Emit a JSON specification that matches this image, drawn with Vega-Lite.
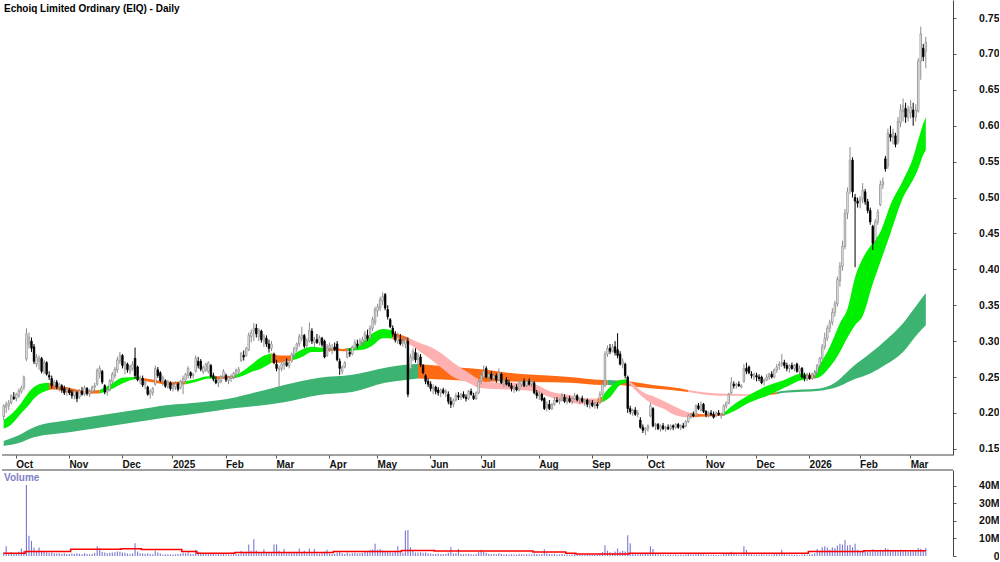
{
"$schema": "https://vega.github.io/schema/vega-lite/v6.json",
"padding": 0,
"background": "white",
"spacing": 0,
"config": {"view": {"stroke": null}, "font": "Liberation Sans", "axis": {"labelFont": "Liberation Sans", "labelFontWeight": "bold", "labelColor": "#111111", "domainColor": "#555555", "tickColor": "#555555", "grid": false, "title": null, "labelOverlap": false}},
"datasets": {
"p": [
{"d":"2024-09-24","o":0.195,"h":0.212,"l":0.19,"c":0.21,"v":2.2,"m":1.5},
{"d":"2024-09-25","o":0.208,"h":0.216,"l":0.2,"c":0.212,"v":5.6,"m":1.5},
{"d":"2024-09-26","o":0.21,"h":0.218,"l":0.204,"c":0.214,"v":1.8,"m":1.5},
{"d":"2024-09-27","o":0.214,"h":0.226,"l":0.212,"c":0.224,"v":2.2,"m":1.5},
{"d":"2024-09-30","o":0.222,"h":0.229,"l":0.218,"c":0.22,"v":1.5,"m":1.5},
{"d":"2024-10-01","o":0.22,"h":0.228,"l":0.216,"c":0.226,"v":1.6,"m":1.5},
{"d":"2024-10-02","o":0.224,"h":0.234,"l":0.221,"c":0.231,"v":2.4,"m":1.5},
{"d":"2024-10-03","o":0.23,"h":0.238,"l":0.227,"c":0.235,"v":4.3,"m":1.5},
{"d":"2024-10-04","o":0.236,"h":0.252,"l":0.232,"c":0.25,"v":3,"m":1.5},
{"d":"2024-10-07","o":0.275,"h":0.318,"l":0.272,"c":0.31,"v":40.5,"m":2.6},
{"d":"2024-10-08","o":0.296,"h":0.312,"l":0.29,"c":0.306,"v":11.5,"m":2.6},
{"d":"2024-10-09","o":0.3,"h":0.305,"l":0.285,"c":0.29,"v":8.6,"m":2.6},
{"d":"2024-10-10","o":0.292,"h":0.296,"l":0.268,"c":0.272,"v":4.9,"m":2.6},
{"d":"2024-10-11","o":0.268,"h":0.282,"l":0.264,"c":0.278,"v":3,"m":2.6},
{"d":"2024-10-14","o":0.272,"h":0.28,"l":0.26,"c":0.276,"v":4.9,"m":2.6},
{"d":"2024-10-15","o":0.276,"h":0.278,"l":0.255,"c":0.258,"v":3,"m":2.6},
{"d":"2024-10-18","o":0.258,"h":0.274,"l":0.254,"c":0.27,"v":2.5,"m":2.6},
{"d":"2024-10-21","o":0.27,"h":0.272,"l":0.252,"c":0.254,"v":2.2,"m":2.6},
{"d":"2024-10-22","o":0.252,"h":0.258,"l":0.246,"c":0.25,"v":1.8,"m":2.6},
{"d":"2024-10-23","o":0.248,"h":0.252,"l":0.234,"c":0.238,"v":2,"m":2.6},
{"d":"2024-10-24","o":0.238,"h":0.246,"l":0.232,"c":0.243,"v":1.5,"m":2.6},
{"d":"2024-10-25","o":0.243,"h":0.246,"l":0.233,"c":0.236,"v":1.4,"m":2.6},
{"d":"2024-10-28","o":0.236,"h":0.242,"l":0.23,"c":0.24,"v":1.6,"m":2.6},
{"d":"2024-10-29","o":0.238,"h":0.24,"l":0.228,"c":0.232,"v":1.3,"m":2.6},
{"d":"2024-10-30","o":0.234,"h":0.238,"l":0.225,"c":0.228,"v":1.5,"m":2.6},
{"d":"2024-10-31","o":0.23,"h":0.236,"l":0.224,"c":0.233,"v":1.2,"m":2.6},
{"d":"2024-11-01","o":0.232,"h":0.235,"l":0.225,"c":0.228,"v":1.2,"m":2.6},
{"d":"2024-11-04","o":0.228,"h":0.232,"l":0.22,"c":0.224,"v":1.4,"m":3.9},
{"d":"2024-11-05","o":0.224,"h":0.233,"l":0.219,"c":0.23,"v":1.1,"m":3.9},
{"d":"2024-11-06","o":0.228,"h":0.23,"l":0.215,"c":0.22,"v":1.5,"m":3.9},
{"d":"2024-11-07","o":0.222,"h":0.233,"l":0.22,"c":0.231,"v":1.3,"m":3.9},
{"d":"2024-11-08","o":0.23,"h":0.236,"l":0.224,"c":0.226,"v":1,"m":3.9},
{"d":"2024-11-11","o":0.226,"h":0.238,"l":0.224,"c":0.235,"v":1.6,"m":3.9},
{"d":"2024-11-12","o":0.234,"h":0.236,"l":0.224,"c":0.227,"v":1.2,"m":3.9},
{"d":"2024-11-13","o":0.226,"h":0.233,"l":0.222,"c":0.23,"v":1,"m":3.9},
{"d":"2024-11-14","o":0.23,"h":0.238,"l":0.227,"c":0.236,"v":1.1,"m":3.9},
{"d":"2024-11-15","o":0.236,"h":0.242,"l":0.229,"c":0.238,"v":1.7,"m":3.9},
{"d":"2024-11-18","o":0.24,"h":0.262,"l":0.238,"c":0.259,"v":5.6,"m":3.9},
{"d":"2024-11-19","o":0.255,"h":0.266,"l":0.248,"c":0.262,"v":4.5,"m":3.9},
{"d":"2024-11-20","o":0.258,"h":0.26,"l":0.24,"c":0.243,"v":2.4,"m":3.9},
{"d":"2024-11-21","o":0.238,"h":0.24,"l":0.226,"c":0.229,"v":2,"m":3.9},
{"d":"2024-11-22","o":0.229,"h":0.234,"l":0.224,"c":0.232,"v":1.6,"m":3.9},
{"d":"2024-11-25","o":0.232,"h":0.247,"l":0.23,"c":0.245,"v":1.8,"m":3.9},
{"d":"2024-11-26","o":0.244,"h":0.257,"l":0.24,"c":0.254,"v":2,"m":3.9},
{"d":"2024-11-27","o":0.252,"h":0.264,"l":0.248,"c":0.261,"v":2.2,"m":3.9},
{"d":"2024-11-28","o":0.26,"h":0.278,"l":0.256,"c":0.274,"v":2.6,"m":3.9},
{"d":"2024-11-29","o":0.272,"h":0.285,"l":0.268,"c":0.28,"v":2.4,"m":3.9},
{"d":"2024-12-02","o":0.28,"h":0.282,"l":0.262,"c":0.266,"v":2,"m":4.2},
{"d":"2024-12-03","o":0.262,"h":0.272,"l":0.254,"c":0.27,"v":1.8,"m":4.2},
{"d":"2024-12-04","o":0.268,"h":0.27,"l":0.256,"c":0.26,"v":1.4,"m":4.2},
{"d":"2024-12-05","o":0.258,"h":0.267,"l":0.254,"c":0.265,"v":1.2,"m":4.2},
{"d":"2024-12-06","o":0.262,"h":0.272,"l":0.259,"c":0.268,"v":1.5,"m":4.2},
{"d":"2024-12-09","o":0.276,"h":0.291,"l":0.248,"c":0.252,"v":7.3,"m":4.2},
{"d":"2024-12-10","o":0.264,"h":0.266,"l":0.244,"c":0.246,"v":2.5,"m":4.2},
{"d":"2024-12-11","o":0.246,"h":0.252,"l":0.24,"c":0.249,"v":1.5,"m":4.2},
{"d":"2024-12-12","o":0.248,"h":0.252,"l":0.236,"c":0.239,"v":1.4,"m":3.7},
{"d":"2024-12-13","o":0.24,"h":0.246,"l":0.233,"c":0.243,"v":1.3,"m":3.7},
{"d":"2024-12-16","o":0.236,"h":0.238,"l":0.224,"c":0.226,"v":1.6,"m":3.7},
{"d":"2024-12-17","o":0.226,"h":0.233,"l":0.22,"c":0.23,"v":1.2,"m":3.7},
{"d":"2024-12-18","o":0.228,"h":0.236,"l":0.224,"c":0.234,"v":1,"m":3.7},
{"d":"2024-12-19","o":0.24,"h":0.266,"l":0.238,"c":0.262,"v":3,"m":3.7},
{"d":"2024-12-20","o":0.26,"h":0.264,"l":0.249,"c":0.252,"v":2,"m":3.7},
{"d":"2024-12-23","o":0.256,"h":0.258,"l":0.243,"c":0.245,"v":1.4,"m":3.7},
{"d":"2024-12-24","o":0.247,"h":0.252,"l":0.238,"c":0.249,"v":0.8,"m":3.7},
{"d":"2024-12-27","o":0.245,"h":0.247,"l":0.235,"c":0.237,"v":1,"m":3.7},
{"d":"2024-12-30","o":0.236,"h":0.246,"l":0.234,"c":0.244,"v":1,"m":3.7},
{"d":"2024-12-31","o":0.242,"h":0.244,"l":0.231,"c":0.234,"v":0.8,"m":3.7},
{"d":"2025-01-02","o":0.234,"h":0.241,"l":0.23,"c":0.238,"v":0.9,"m":3.7},
{"d":"2025-01-03","o":0.236,"h":0.244,"l":0.232,"c":0.241,"v":1,"m":3.7},
{"d":"2025-01-06","o":0.24,"h":0.243,"l":0.23,"c":0.233,"v":1.1,"m":3.7},
{"d":"2025-01-07","o":0.235,"h":0.246,"l":0.233,"c":0.244,"v":1.2,"m":3.7},
{"d":"2025-01-08","o":0.242,"h":0.252,"l":0.226,"c":0.248,"v":1.8,"m":2.5},
{"d":"2025-01-09","o":0.246,"h":0.256,"l":0.243,"c":0.254,"v":1.5,"m":2.5},
{"d":"2025-01-10","o":0.252,"h":0.265,"l":0.248,"c":0.262,"v":2.2,"m":2.5},
{"d":"2025-01-13","o":0.256,"h":0.258,"l":0.248,"c":0.252,"v":1.3,"m":2.5},
{"d":"2025-01-14","o":0.252,"h":0.256,"l":0.248,"c":0.254,"v":1,"m":2.5},
{"d":"2025-01-15","o":0.258,"h":0.28,"l":0.256,"c":0.276,"v":3.5,"m":2.5},
{"d":"2025-01-16","o":0.272,"h":0.278,"l":0.262,"c":0.266,"v":2,"m":1.5},
{"d":"2025-01-17","o":0.272,"h":0.275,"l":0.258,"c":0.261,"v":1.6,"m":1.5},
{"d":"2025-01-20","o":0.257,"h":0.266,"l":0.254,"c":0.264,"v":1.2,"m":1.5},
{"d":"2025-01-21","o":0.26,"h":0.27,"l":0.257,"c":0.268,"v":1.4,"m":1.5},
{"d":"2025-01-22","o":0.258,"h":0.272,"l":0.255,"c":0.27,"v":1.3,"m":1.5},
{"d":"2025-01-23","o":0.266,"h":0.268,"l":0.249,"c":0.251,"v":1.6,"m":1.5},
{"d":"2025-01-24","o":0.252,"h":0.256,"l":0.244,"c":0.247,"v":1.2,"m":1.5},
{"d":"2025-01-28","o":0.246,"h":0.251,"l":0.24,"c":0.242,"v":1,"m":1.5},
{"d":"2025-01-29","o":0.242,"h":0.249,"l":0.236,"c":0.246,"v":1.1,"m":1.5},
{"d":"2025-01-30","o":0.244,"h":0.253,"l":0.241,"c":0.25,"v":1,"m":1.5},
{"d":"2025-01-31","o":0.25,"h":0.261,"l":0.248,"c":0.258,"v":1.2,"m":1.5},
{"d":"2025-02-03","o":0.252,"h":0.255,"l":0.243,"c":0.246,"v":1,"m":1.5},
{"d":"2025-02-04","o":0.245,"h":0.252,"l":0.24,"c":0.249,"v":0.9,"m":1.5},
{"d":"2025-02-05","o":0.248,"h":0.254,"l":0.243,"c":0.251,"v":0.9,"m":1.5},
{"d":"2025-02-06","o":0.25,"h":0.257,"l":0.247,"c":0.255,"v":1,"m":1.5},
{"d":"2025-02-07","o":0.254,"h":0.262,"l":0.249,"c":0.259,"v":1.2,"m":2},
{"d":"2025-02-10","o":0.257,"h":0.264,"l":0.254,"c":0.261,"v":1.1,"m":2},
{"d":"2025-02-11","o":0.273,"h":0.285,"l":0.271,"c":0.283,"v":3,"m":2},
{"d":"2025-02-12","o":0.28,"h":0.287,"l":0.273,"c":0.278,"v":2,"m":2},
{"d":"2025-02-13","o":0.28,"h":0.292,"l":0.278,"c":0.29,"v":2.4,"m":2},
{"d":"2025-02-14","o":0.288,"h":0.312,"l":0.286,"c":0.308,"v":6.6,"m":2},
{"d":"2025-02-17","o":0.306,"h":0.316,"l":0.298,"c":0.312,"v":3,"m":2},
{"d":"2025-02-18","o":0.314,"h":0.325,"l":0.3,"c":0.318,"v":9.6,"m":2},
{"d":"2025-02-19","o":0.318,"h":0.324,"l":0.305,"c":0.31,"v":3.2,"m":2},
{"d":"2025-02-20","o":0.306,"h":0.318,"l":0.3,"c":0.315,"v":2,"m":2},
{"d":"2025-02-21","o":0.314,"h":0.316,"l":0.298,"c":0.302,"v":1.8,"m":2},
{"d":"2025-02-24","o":0.3,"h":0.31,"l":0.292,"c":0.306,"v":3.8,"m":2},
{"d":"2025-02-25","o":0.304,"h":0.308,"l":0.292,"c":0.296,"v":2,"m":2},
{"d":"2025-02-26","o":0.296,"h":0.302,"l":0.284,"c":0.29,"v":2.2,"m":2},
{"d":"2025-02-27","o":0.29,"h":0.3,"l":0.286,"c":0.296,"v":1.6,"m":2},
{"d":"2025-02-28","o":0.282,"h":0.284,"l":0.268,"c":0.27,"v":6.6,"m":2},
{"d":"2025-03-03","o":0.268,"h":0.274,"l":0.258,"c":0.262,"v":6.6,"m":2},
{"d":"2025-03-04","o":0.26,"h":0.266,"l":0.235,"c":0.262,"v":3,"m":2},
{"d":"2025-03-05","o":0.262,"h":0.27,"l":0.258,"c":0.268,"v":2,"m":2},
{"d":"2025-03-06","o":0.268,"h":0.275,"l":0.26,"c":0.272,"v":4,"m":2},
{"d":"2025-03-07","o":0.27,"h":0.276,"l":0.264,"c":0.266,"v":1.5,"m":2},
{"d":"2025-03-10","o":0.266,"h":0.272,"l":0.262,"c":0.27,"v":1.8,"m":2},
{"d":"2025-03-11","o":0.272,"h":0.284,"l":0.27,"c":0.282,"v":2,"m":2},
{"d":"2025-03-12","o":0.28,"h":0.292,"l":0.277,"c":0.29,"v":2.4,"m":2},
{"d":"2025-03-13","o":0.29,"h":0.298,"l":0.285,"c":0.296,"v":2.2,"m":2},
{"d":"2025-03-14","o":0.296,"h":0.31,"l":0.292,"c":0.306,"v":4.3,"m":2},
{"d":"2025-03-17","o":0.304,"h":0.32,"l":0.3,"c":0.308,"v":1.8,"m":2},
{"d":"2025-03-18","o":0.308,"h":0.31,"l":0.29,"c":0.293,"v":3,"m":2},
{"d":"2025-03-19","o":0.294,"h":0.304,"l":0.29,"c":0.3,"v":1.6,"m":2},
{"d":"2025-03-20","o":0.3,"h":0.326,"l":0.298,"c":0.315,"v":4.3,"m":2},
{"d":"2025-03-21","o":0.314,"h":0.318,"l":0.296,"c":0.3,"v":1.5,"m":2},
{"d":"2025-03-24","o":0.298,"h":0.306,"l":0.292,"c":0.303,"v":4,"m":2},
{"d":"2025-03-25","o":0.302,"h":0.31,"l":0.296,"c":0.298,"v":1.6,"m":2},
{"d":"2025-03-26","o":0.298,"h":0.308,"l":0.294,"c":0.305,"v":1.3,"m":2},
{"d":"2025-03-27","o":0.304,"h":0.306,"l":0.292,"c":0.295,"v":1.8,"m":2},
{"d":"2025-03-28","o":0.3,"h":0.302,"l":0.276,"c":0.278,"v":2.5,"m":2},
{"d":"2025-03-31","o":0.28,"h":0.296,"l":0.278,"c":0.292,"v":3.6,"m":2},
{"d":"2025-04-01","o":0.29,"h":0.298,"l":0.285,"c":0.294,"v":1.4,"m":2},
{"d":"2025-04-02","o":0.288,"h":0.296,"l":0.282,"c":0.29,"v":1.2,"m":2},
{"d":"2025-04-03","o":0.292,"h":0.298,"l":0.286,"c":0.288,"v":1.3,"m":2.6},
{"d":"2025-04-04","o":0.296,"h":0.3,"l":0.272,"c":0.274,"v":2,"m":2.6},
{"d":"2025-04-07","o":0.272,"h":0.276,"l":0.253,"c":0.262,"v":2.6,"m":2.6},
{"d":"2025-04-08","o":0.258,"h":0.266,"l":0.254,"c":0.264,"v":1.5,"m":2.6},
{"d":"2025-04-09","o":0.264,"h":0.272,"l":0.262,"c":0.27,"v":1.2,"m":2.6},
{"d":"2025-04-10","o":0.278,"h":0.29,"l":0.276,"c":0.287,"v":2,"m":2.6},
{"d":"2025-04-11","o":0.284,"h":0.29,"l":0.278,"c":0.282,"v":1.3,"m":2.6},
{"d":"2025-04-14","o":0.282,"h":0.294,"l":0.28,"c":0.292,"v":1.6,"m":2.6},
{"d":"2025-04-15","o":0.29,"h":0.302,"l":0.288,"c":0.298,"v":1.8,"m":2.6},
{"d":"2025-04-16","o":0.296,"h":0.302,"l":0.29,"c":0.294,"v":1.4,"m":2.6},
{"d":"2025-04-17","o":0.294,"h":0.304,"l":0.292,"c":0.3,"v":1.5,"m":2.6},
{"d":"2025-04-22","o":0.298,"h":0.306,"l":0.294,"c":0.302,"v":1.7,"m":2.6},
{"d":"2025-04-23","o":0.3,"h":0.314,"l":0.298,"c":0.31,"v":2.6,"m":2.6},
{"d":"2025-04-24","o":0.308,"h":0.316,"l":0.3,"c":0.304,"v":2.2,"m":2.6},
{"d":"2025-04-28","o":0.304,"h":0.322,"l":0.302,"c":0.318,"v":3.4,"m":2.6},
{"d":"2025-04-29","o":0.318,"h":0.334,"l":0.314,"c":0.33,"v":3.8,"m":2.6},
{"d":"2025-04-30","o":0.326,"h":0.348,"l":0.322,"c":0.344,"v":7,"m":2.6},
{"d":"2025-05-01","o":0.342,"h":0.352,"l":0.334,"c":0.348,"v":3.5,"m":2.6},
{"d":"2025-05-02","o":0.346,"h":0.362,"l":0.342,"c":0.358,"v":4,"m":2.6},
{"d":"2025-05-05","o":0.356,"h":0.368,"l":0.35,"c":0.362,"v":3.2,"m":2.6},
{"d":"2025-05-06","o":0.365,"h":0.367,"l":0.343,"c":0.346,"v":2.8,"m":2.6},
{"d":"2025-05-07","o":0.344,"h":0.35,"l":0.33,"c":0.334,"v":2.4,"m":2.6},
{"d":"2025-05-08","o":0.33,"h":0.332,"l":0.318,"c":0.32,"v":2.2,"m":2.6},
{"d":"2025-05-09","o":0.318,"h":0.322,"l":0.306,"c":0.31,"v":2,"m":2.6},
{"d":"2025-05-12","o":0.31,"h":0.314,"l":0.298,"c":0.302,"v":3,"m":2.6},
{"d":"2025-05-13","o":0.3,"h":0.312,"l":0.296,"c":0.306,"v":5.6,"m":2.6},
{"d":"2025-05-14","o":0.302,"h":0.31,"l":0.294,"c":0.296,"v":2.2,"m":2.6},
{"d":"2025-05-15","o":0.298,"h":0.304,"l":0.292,"c":0.3,"v":1.8,"m":3.2},
{"d":"2025-05-19","o":0.296,"h":0.306,"l":0.29,"c":0.302,"v":14.5,"m":3.2},
{"d":"2025-05-20","o":0.3,"h":0.305,"l":0.222,"c":0.226,"v":14.8,"m":3.2},
{"d":"2025-05-21","o":0.262,"h":0.282,"l":0.258,"c":0.278,"v":4.9,"m":3.2},
{"d":"2025-05-22","o":0.276,"h":0.29,"l":0.272,"c":0.286,"v":3,"m":3.2},
{"d":"2025-05-23","o":0.284,"h":0.29,"l":0.27,"c":0.274,"v":2,"m":3.2},
{"d":"2025-05-26","o":0.274,"h":0.284,"l":0.268,"c":0.28,"v":2,"m":3.2},
{"d":"2025-05-27","o":0.278,"h":0.282,"l":0.264,"c":0.267,"v":2.2,"m":3.2},
{"d":"2025-05-28","o":0.266,"h":0.268,"l":0.254,"c":0.256,"v":1.8,"m":3.2},
{"d":"2025-05-29","o":0.252,"h":0.254,"l":0.24,"c":0.244,"v":2,"m":3.2},
{"d":"2025-05-30","o":0.244,"h":0.248,"l":0.236,"c":0.24,"v":1.6,"m":3.2},
{"d":"2025-06-02","o":0.24,"h":0.244,"l":0.23,"c":0.234,"v":1.4,"m":3.2},
{"d":"2025-06-03","o":0.234,"h":0.24,"l":0.226,"c":0.236,"v":1.2,"m":3.2},
{"d":"2025-06-04","o":0.236,"h":0.238,"l":0.226,"c":0.23,"v":1.1,"m":2.8},
{"d":"2025-06-05","o":0.232,"h":0.236,"l":0.224,"c":0.228,"v":1.3,"m":2.8},
{"d":"2025-06-06","o":0.228,"h":0.234,"l":0.222,"c":0.232,"v":1,"m":2.8},
{"d":"2025-06-10","o":0.232,"h":0.235,"l":0.226,"c":0.228,"v":1.1,"m":2.8},
{"d":"2025-06-11","o":0.228,"h":0.233,"l":0.222,"c":0.23,"v":1.2,"m":2.8},
{"d":"2025-06-12","o":0.226,"h":0.23,"l":0.212,"c":0.216,"v":1.8,"m":2.8},
{"d":"2025-06-13","o":0.216,"h":0.222,"l":0.207,"c":0.212,"v":5,"m":2.8},
{"d":"2025-06-16","o":0.212,"h":0.22,"l":0.208,"c":0.218,"v":1.4,"m":2.8},
{"d":"2025-06-17","o":0.218,"h":0.228,"l":0.216,"c":0.224,"v":1.5,"m":2.8},
{"d":"2025-06-18","o":0.224,"h":0.229,"l":0.218,"c":0.222,"v":4,"m":2.8},
{"d":"2025-06-19","o":0.222,"h":0.228,"l":0.218,"c":0.226,"v":1.2,"m":2.8},
{"d":"2025-06-20","o":0.226,"h":0.23,"l":0.22,"c":0.222,"v":1,"m":2.8},
{"d":"2025-06-23","o":0.222,"h":0.226,"l":0.216,"c":0.22,"v":1.1,"m":2.8},
{"d":"2025-06-24","o":0.22,"h":0.232,"l":0.218,"c":0.23,"v":1.3,"m":2.8},
{"d":"2025-06-25","o":0.23,"h":0.234,"l":0.224,"c":0.226,"v":1,"m":2.8},
{"d":"2025-06-26","o":0.224,"h":0.228,"l":0.218,"c":0.22,"v":0.9,"m":2.8},
{"d":"2025-06-27","o":0.22,"h":0.23,"l":0.218,"c":0.228,"v":1.2,"m":2.8},
{"d":"2025-06-30","o":0.228,"h":0.246,"l":0.226,"c":0.244,"v":2.2,"m":2.8},
{"d":"2025-07-01","o":0.244,"h":0.256,"l":0.24,"c":0.252,"v":3.5,"m":2.8},
{"d":"2025-07-02","o":0.25,"h":0.266,"l":0.248,"c":0.258,"v":2.4,"m":2.8},
{"d":"2025-07-03","o":0.262,"h":0.265,"l":0.248,"c":0.25,"v":1.8,"m":2.8},
{"d":"2025-07-04","o":0.25,"h":0.256,"l":0.244,"c":0.254,"v":1.2,"m":2.8},
{"d":"2025-07-07","o":0.254,"h":0.258,"l":0.246,"c":0.248,"v":1,"m":2.8},
{"d":"2025-07-08","o":0.248,"h":0.256,"l":0.244,"c":0.252,"v":1.1,"m":2.8},
{"d":"2025-07-09","o":0.252,"h":0.255,"l":0.242,"c":0.246,"v":1,"m":2.8},
{"d":"2025-07-10","o":0.246,"h":0.262,"l":0.244,"c":0.256,"v":1.6,"m":2.8},
{"d":"2025-07-11","o":0.254,"h":0.256,"l":0.24,"c":0.242,"v":1.2,"m":2.8},
{"d":"2025-07-14","o":0.244,"h":0.248,"l":0.236,"c":0.246,"v":0.9,"m":2.8},
{"d":"2025-07-15","o":0.246,"h":0.25,"l":0.238,"c":0.24,"v":1,"m":2.8},
{"d":"2025-07-16","o":0.242,"h":0.246,"l":0.236,"c":0.238,"v":0.8,"m":2.8},
{"d":"2025-07-17","o":0.238,"h":0.242,"l":0.23,"c":0.234,"v":1,"m":2.8},
{"d":"2025-07-18","o":0.234,"h":0.238,"l":0.228,"c":0.236,"v":0.9,"m":2.8},
{"d":"2025-07-21","o":0.236,"h":0.24,"l":0.23,"c":0.232,"v":0.8,"m":2.8},
{"d":"2025-07-22","o":0.232,"h":0.244,"l":0.23,"c":0.242,"v":1.1,"m":2.8},
{"d":"2025-07-23","o":0.24,"h":0.246,"l":0.236,"c":0.244,"v":1,"m":2.8},
{"d":"2025-07-24","o":0.244,"h":0.248,"l":0.236,"c":0.238,"v":0.9,"m":2.8},
{"d":"2025-07-25","o":0.238,"h":0.246,"l":0.236,"c":0.244,"v":1,"m":2.8},
{"d":"2025-07-28","o":0.244,"h":0.248,"l":0.238,"c":0.24,"v":0.8,"m":2.8},
{"d":"2025-07-29","o":0.24,"h":0.246,"l":0.236,"c":0.244,"v":0.9,"m":2.8},
{"d":"2025-07-30","o":0.242,"h":0.244,"l":0.226,"c":0.228,"v":1.4,"m":2.3},
{"d":"2025-07-31","o":0.228,"h":0.232,"l":0.22,"c":0.224,"v":1.2,"m":2.3},
{"d":"2025-08-01","o":0.224,"h":0.23,"l":0.218,"c":0.226,"v":1,"m":2.3},
{"d":"2025-08-04","o":0.226,"h":0.228,"l":0.216,"c":0.218,"v":1.1,"m":2.3},
{"d":"2025-08-05","o":0.22,"h":0.222,"l":0.204,"c":0.206,"v":3.8,"m":2.3},
{"d":"2025-08-06","o":0.208,"h":0.216,"l":0.202,"c":0.212,"v":1.5,"m":2.3},
{"d":"2025-08-07","o":0.212,"h":0.218,"l":0.204,"c":0.206,"v":1.2,"m":2.3},
{"d":"2025-08-08","o":0.206,"h":0.214,"l":0.204,"c":0.212,"v":1,"m":2.3},
{"d":"2025-08-11","o":0.212,"h":0.222,"l":0.21,"c":0.218,"v":1.3,"m":2.3},
{"d":"2025-08-12","o":0.218,"h":0.222,"l":0.214,"c":0.216,"v":0.8,"m":2.3},
{"d":"2025-08-13","o":0.216,"h":0.22,"l":0.212,"c":0.218,"v":0.9,"m":2.3},
{"d":"2025-08-14","o":0.218,"h":0.228,"l":0.216,"c":0.224,"v":1.2,"m":2.3},
{"d":"2025-08-15","o":0.222,"h":0.226,"l":0.214,"c":0.216,"v":0.8,"m":2.3},
{"d":"2025-08-18","o":0.216,"h":0.222,"l":0.212,"c":0.22,"v":0.9,"m":1.6},
{"d":"2025-08-19","o":0.22,"h":0.224,"l":0.214,"c":0.216,"v":0.7,"m":1.6},
{"d":"2025-08-20","o":0.216,"h":0.222,"l":0.212,"c":0.22,"v":0.8,"m":1.6},
{"d":"2025-08-21","o":0.22,"h":0.228,"l":0.218,"c":0.224,"v":1,"m":1.6},
{"d":"2025-08-22","o":0.224,"h":0.226,"l":0.216,"c":0.218,"v":0.7,"m":1.2},
{"d":"2025-08-25","o":0.218,"h":0.222,"l":0.212,"c":0.22,"v":0.8,"m":1.2},
{"d":"2025-08-26","o":0.22,"h":0.224,"l":0.214,"c":0.216,"v":0.6,"m":1.2},
{"d":"2025-08-27","o":0.216,"h":0.22,"l":0.21,"c":0.218,"v":0.7,"m":1.2},
{"d":"2025-08-28","o":0.218,"h":0.22,"l":0.208,"c":0.212,"v":0.8,"m":1.2},
{"d":"2025-08-29","o":0.212,"h":0.218,"l":0.206,"c":0.214,"v":0.7,"m":1.2},
{"d":"2025-09-01","o":0.214,"h":0.218,"l":0.208,"c":0.21,"v":0.6,"m":1.2},
{"d":"2025-09-02","o":0.21,"h":0.216,"l":0.206,"c":0.212,"v":0.7,"m":1.2},
{"d":"2025-09-03","o":0.212,"h":0.215,"l":0.206,"c":0.21,"v":0.6,"m":1.2},
{"d":"2025-09-04","o":0.214,"h":0.23,"l":0.212,"c":0.226,"v":1.5,"m":1.2},
{"d":"2025-09-05","o":0.226,"h":0.246,"l":0.224,"c":0.24,"v":2.2,"m":1.2},
{"d":"2025-09-08","o":0.238,"h":0.286,"l":0.236,"c":0.282,"v":6.2,"m":1.2},
{"d":"2025-09-09","o":0.282,"h":0.294,"l":0.278,"c":0.29,"v":3,"m":1.2},
{"d":"2025-09-10","o":0.29,"h":0.296,"l":0.282,"c":0.286,"v":2.2,"m":1.2},
{"d":"2025-09-11","o":0.286,"h":0.296,"l":0.284,"c":0.292,"v":1.8,"m":1.2},
{"d":"2025-09-12","o":0.292,"h":0.3,"l":0.28,"c":0.284,"v":2.5,"m":1.2},
{"d":"2025-09-15","o":0.288,"h":0.311,"l":0.276,"c":0.28,"v":4.3,"m":1.2},
{"d":"2025-09-16","o":0.282,"h":0.286,"l":0.266,"c":0.268,"v":2.4,"m":1.2},
{"d":"2025-09-17","o":0.268,"h":0.276,"l":0.262,"c":0.272,"v":3,"m":1.2},
{"d":"2025-09-18","o":0.268,"h":0.27,"l":0.248,"c":0.252,"v":2.6,"m":1.2},
{"d":"2025-09-19","o":0.25,"h":0.252,"l":0.2,"c":0.206,"v":11.8,"m":1.2},
{"d":"2025-09-22","o":0.206,"h":0.21,"l":0.198,"c":0.202,"v":7.3,"m":1.5},
{"d":"2025-09-23","o":0.2,"h":0.206,"l":0.196,"c":0.204,"v":1.8,"m":1.5},
{"d":"2025-09-24","o":0.204,"h":0.208,"l":0.196,"c":0.198,"v":1.2,"m":1.5},
{"d":"2025-09-25","o":0.198,"h":0.204,"l":0.194,"c":0.2,"v":1,"m":1.5},
{"d":"2025-09-26","o":0.19,"h":0.194,"l":0.178,"c":0.18,"v":1.6,"m":1.5},
{"d":"2025-09-29","o":0.18,"h":0.184,"l":0.172,"c":0.176,"v":1.4,"m":1.5},
{"d":"2025-09-30","o":0.176,"h":0.18,"l":0.169,"c":0.178,"v":1.2,"m":1.5},
{"d":"2025-10-01","o":0.178,"h":0.184,"l":0.174,"c":0.182,"v":1.5,"m":1.5},
{"d":"2025-10-02","o":0.196,"h":0.214,"l":0.194,"c":0.21,"v":5.6,"m":1.5},
{"d":"2025-10-03","o":0.206,"h":0.208,"l":0.18,"c":0.182,"v":4,"m":1.5},
{"d":"2025-10-06","o":0.182,"h":0.186,"l":0.176,"c":0.184,"v":1.2,"m":1.5},
{"d":"2025-10-07","o":0.184,"h":0.186,"l":0.176,"c":0.178,"v":1,"m":1.5},
{"d":"2025-10-08","o":0.178,"h":0.184,"l":0.174,"c":0.182,"v":0.9,"m":1.5},
{"d":"2025-10-09","o":0.182,"h":0.186,"l":0.176,"c":0.178,"v":0.8,"m":1.5},
{"d":"2025-10-10","o":0.178,"h":0.182,"l":0.174,"c":0.18,"v":0.7,"m":1.5},
{"d":"2025-10-13","o":0.18,"h":0.184,"l":0.176,"c":0.178,"v":0.8,"m":1.5},
{"d":"2025-10-14","o":0.178,"h":0.184,"l":0.176,"c":0.182,"v":0.9,"m":1.5},
{"d":"2025-10-15","o":0.182,"h":0.184,"l":0.176,"c":0.18,"v":0.7,"m":1.5},
{"d":"2025-10-16","o":0.18,"h":0.186,"l":0.178,"c":0.184,"v":0.8,"m":1.5},
{"d":"2025-10-17","o":0.184,"h":0.186,"l":0.178,"c":0.18,"v":0.7,"m":1.5},
{"d":"2025-10-20","o":0.18,"h":0.184,"l":0.176,"c":0.182,"v":0.8,"m":1.5},
{"d":"2025-10-21","o":0.182,"h":0.186,"l":0.178,"c":0.18,"v":0.7,"m":1.5},
{"d":"2025-10-22","o":0.182,"h":0.19,"l":0.18,"c":0.188,"v":1,"m":1.5},
{"d":"2025-10-23","o":0.188,"h":0.198,"l":0.186,"c":0.196,"v":1.2,"m":1.5},
{"d":"2025-10-24","o":0.196,"h":0.2,"l":0.192,"c":0.198,"v":1,"m":1.5},
{"d":"2025-10-27","o":0.198,"h":0.202,"l":0.194,"c":0.196,"v":0.8,"m":1.5},
{"d":"2025-10-28","o":0.196,"h":0.212,"l":0.194,"c":0.21,"v":1.6,"m":1.5},
{"d":"2025-10-29","o":0.21,"h":0.214,"l":0.204,"c":0.206,"v":1.2,"m":1.5},
{"d":"2025-10-30","o":0.204,"h":0.216,"l":0.202,"c":0.212,"v":1.3,"m":1.5},
{"d":"2025-10-31","o":0.212,"h":0.214,"l":0.2,"c":0.202,"v":1,"m":1.5},
{"d":"2025-11-03","o":0.202,"h":0.204,"l":0.194,"c":0.198,"v":0.9,"m":1.5},
{"d":"2025-11-04","o":0.198,"h":0.202,"l":0.194,"c":0.2,"v":0.8,"m":1.5},
{"d":"2025-11-05","o":0.2,"h":0.204,"l":0.196,"c":0.198,"v":0.7,"m":1.5},
{"d":"2025-11-06","o":0.198,"h":0.202,"l":0.192,"c":0.194,"v":0.8,"m":1.5},
{"d":"2025-11-07","o":0.196,"h":0.202,"l":0.194,"c":0.2,"v":0.7,"m":1.5},
{"d":"2025-11-10","o":0.2,"h":0.204,"l":0.196,"c":0.198,"v":0.6,"m":1.5},
{"d":"2025-11-11","o":0.196,"h":0.2,"l":0.192,"c":0.198,"v":0.7,"m":1.5},
{"d":"2025-11-12","o":0.198,"h":0.212,"l":0.196,"c":0.21,"v":1.2,"m":1.5},
{"d":"2025-11-13","o":0.21,"h":0.216,"l":0.206,"c":0.214,"v":1.3,"m":1.5},
{"d":"2025-11-14","o":0.214,"h":0.228,"l":0.212,"c":0.226,"v":1.6,"m":1.5},
{"d":"2025-11-17","o":0.228,"h":0.25,"l":0.226,"c":0.242,"v":2.4,"m":1.5},
{"d":"2025-11-18","o":0.24,"h":0.244,"l":0.234,"c":0.238,"v":1.2,"m":1.5},
{"d":"2025-11-19","o":0.238,"h":0.242,"l":0.234,"c":0.24,"v":1,"m":1.5},
{"d":"2025-11-20","o":0.24,"h":0.244,"l":0.236,"c":0.238,"v":0.9,"m":1.5},
{"d":"2025-11-21","o":0.236,"h":0.24,"l":0.234,"c":0.238,"v":0.8,"m":1.5},
{"d":"2025-11-24","o":0.244,"h":0.268,"l":0.242,"c":0.262,"v":5.6,"m":1.5},
{"d":"2025-11-25","o":0.262,"h":0.27,"l":0.254,"c":0.258,"v":3.5,"m":1.5},
{"d":"2025-11-26","o":0.264,"h":0.266,"l":0.254,"c":0.256,"v":1.5,"m":1.5},
{"d":"2025-11-27","o":0.254,"h":0.258,"l":0.248,"c":0.252,"v":1,"m":1.5},
{"d":"2025-11-28","o":0.25,"h":0.256,"l":0.246,"c":0.254,"v":0.9,"m":1.5},
{"d":"2025-12-01","o":0.252,"h":0.256,"l":0.244,"c":0.25,"v":0.9,"m":1.5},
{"d":"2025-12-02","o":0.25,"h":0.254,"l":0.244,"c":0.248,"v":0.8,"m":1.5},
{"d":"2025-12-03","o":0.25,"h":0.252,"l":0.24,"c":0.242,"v":1,"m":1.5},
{"d":"2025-12-04","o":0.244,"h":0.248,"l":0.238,"c":0.246,"v":0.8,"m":1.5},
{"d":"2025-12-05","o":0.246,"h":0.254,"l":0.244,"c":0.25,"v":0.9,"m":1.5},
{"d":"2025-12-08","o":0.25,"h":0.256,"l":0.246,"c":0.254,"v":0.8,"m":1.5},
{"d":"2025-12-09","o":0.254,"h":0.258,"l":0.248,"c":0.25,"v":0.7,"m":1.5},
{"d":"2025-12-10","o":0.25,"h":0.262,"l":0.248,"c":0.26,"v":1.1,"m":1.5},
{"d":"2025-12-11","o":0.26,"h":0.268,"l":0.256,"c":0.264,"v":1.2,"m":1.5},
{"d":"2025-12-12","o":0.266,"h":0.272,"l":0.26,"c":0.268,"v":1,"m":1.5},
{"d":"2025-12-15","o":0.268,"h":0.282,"l":0.264,"c":0.27,"v":3.5,"m":1.5},
{"d":"2025-12-16","o":0.27,"h":0.274,"l":0.262,"c":0.266,"v":1.2,"m":1.5},
{"d":"2025-12-17","o":0.266,"h":0.27,"l":0.258,"c":0.262,"v":0.9,"m":1.5},
{"d":"2025-12-18","o":0.262,"h":0.268,"l":0.256,"c":0.266,"v":0.8,"m":1.5},
{"d":"2025-12-19","o":0.266,"h":0.27,"l":0.26,"c":0.262,"v":0.9,"m":1.5},
{"d":"2025-12-22","o":0.262,"h":0.268,"l":0.258,"c":0.266,"v":0.7,"m":1.5},
{"d":"2025-12-23","o":0.268,"h":0.27,"l":0.256,"c":0.258,"v":0.8,"m":1.5},
{"d":"2025-12-24","o":0.258,"h":0.266,"l":0.254,"c":0.262,"v":0.5,"m":1.5},
{"d":"2025-12-29","o":0.262,"h":0.264,"l":0.248,"c":0.25,"v":0.8,"m":1.5},
{"d":"2025-12-30","o":0.252,"h":0.256,"l":0.244,"c":0.248,"v":0.9,"m":1.5},
{"d":"2025-12-31","o":0.248,"h":0.256,"l":0.244,"c":0.252,"v":0.7,"m":1.5},
{"d":"2026-01-02","o":0.252,"h":0.256,"l":0.246,"c":0.248,"v":0.8,"m":2.5},
{"d":"2026-01-05","o":0.248,"h":0.256,"l":0.246,"c":0.254,"v":1.2,"m":2.5},
{"d":"2026-01-06","o":0.252,"h":0.26,"l":0.248,"c":0.256,"v":1.5,"m":2.5},
{"d":"2026-01-07","o":0.256,"h":0.268,"l":0.254,"c":0.266,"v":4,"m":2.5},
{"d":"2026-01-08","o":0.266,"h":0.278,"l":0.262,"c":0.276,"v":3.2,"m":2.5},
{"d":"2026-01-09","o":0.276,"h":0.296,"l":0.274,"c":0.292,"v":5,"m":2.5},
{"d":"2026-01-12","o":0.292,"h":0.312,"l":0.288,"c":0.304,"v":5.5,"m":2.5},
{"d":"2026-01-13","o":0.304,"h":0.322,"l":0.3,"c":0.318,"v":4.8,"m":2.5},
{"d":"2026-01-14","o":0.318,"h":0.33,"l":0.312,"c":0.326,"v":3.5,"m":2.5},
{"d":"2026-01-15","o":0.326,"h":0.346,"l":0.322,"c":0.34,"v":5,"m":2.5},
{"d":"2026-01-16","o":0.34,"h":0.356,"l":0.334,"c":0.352,"v":4.5,"m":2.5},
{"d":"2026-01-19","o":0.352,"h":0.39,"l":0.348,"c":0.386,"v":6,"m":2.5},
{"d":"2026-01-20","o":0.384,"h":0.41,"l":0.376,"c":0.404,"v":7,"m":2.5},
{"d":"2026-01-21","o":0.404,"h":0.44,"l":0.398,"c":0.432,"v":6.5,"m":2.5},
{"d":"2026-01-22","o":0.432,"h":0.484,"l":0.428,"c":0.478,"v":9.2,"m":2.5},
{"d":"2026-01-23","o":0.478,"h":0.514,"l":0.47,"c":0.508,"v":6,"m":2.5},
{"d":"2026-01-27","o":0.51,"h":0.57,"l":0.505,"c":0.552,"v":6.4,"m":2.5},
{"d":"2026-01-28","o":0.552,"h":0.556,"l":0.5,"c":0.508,"v":5,"m":2.5},
{"d":"2026-01-29","o":0.5,"h":0.505,"l":0.403,"c":0.495,"v":7,"m":2.5},
{"d":"2026-01-30","o":0.495,"h":0.5,"l":0.486,"c":0.492,"v":3.5,"m":2.5},
{"d":"2026-02-02","o":0.495,"h":0.502,"l":0.485,"c":0.498,"v":3,"m":2.5},
{"d":"2026-02-03","o":0.498,"h":0.52,"l":0.492,"c":0.51,"v":3.2,"m":2.5},
{"d":"2026-02-04","o":0.508,"h":0.512,"l":0.49,"c":0.494,"v":2.8,"m":3},
{"d":"2026-02-05","o":0.494,"h":0.498,"l":0.478,"c":0.482,"v":3,"m":3},
{"d":"2026-02-06","o":0.482,"h":0.486,"l":0.462,"c":0.466,"v":3.4,"m":3},
{"d":"2026-02-09","o":0.46,"h":0.462,"l":0.427,"c":0.436,"v":3.8,"m":3},
{"d":"2026-02-10","o":0.44,"h":0.47,"l":0.436,"c":0.466,"v":3.2,"m":3},
{"d":"2026-02-11","o":0.466,"h":0.484,"l":0.462,"c":0.48,"v":3,"m":3},
{"d":"2026-02-12","o":0.49,"h":0.524,"l":0.488,"c":0.518,"v":3.6,"m":3},
{"d":"2026-02-13","o":0.518,"h":0.528,"l":0.512,"c":0.522,"v":2.8,"m":3},
{"d":"2026-02-16","o":0.554,"h":0.558,"l":0.536,"c":0.54,"v":4.5,"m":3},
{"d":"2026-02-17","o":0.544,"h":0.596,"l":0.54,"c":0.59,"v":4,"m":3},
{"d":"2026-02-18","o":0.588,"h":0.6,"l":0.578,"c":0.584,"v":3.2,"m":3},
{"d":"2026-02-19","o":0.584,"h":0.596,"l":0.574,"c":0.59,"v":2.8,"m":3},
{"d":"2026-02-20","o":0.586,"h":0.59,"l":0.57,"c":0.574,"v":3,"m":3},
{"d":"2026-02-23","o":0.578,"h":0.612,"l":0.574,"c":0.606,"v":3.4,"m":3},
{"d":"2026-02-24","o":0.604,"h":0.63,"l":0.598,"c":0.622,"v":3.6,"m":3},
{"d":"2026-02-25","o":0.62,"h":0.638,"l":0.606,"c":0.628,"v":3,"m":3},
{"d":"2026-02-26","o":0.624,"h":0.632,"l":0.604,"c":0.612,"v":2.8,"m":3},
{"d":"2026-02-27","o":0.612,"h":0.628,"l":0.606,"c":0.622,"v":2.6,"m":3},
{"d":"2026-03-02","o":0.618,"h":0.636,"l":0.61,"c":0.626,"v":3,"m":3},
{"d":"2026-03-03","o":0.622,"h":0.632,"l":0.6,"c":0.612,"v":2.8,"m":3},
{"d":"2026-03-04","o":0.612,"h":0.63,"l":0.606,"c":0.622,"v":3.2,"m":3},
{"d":"2026-03-05","o":0.62,"h":0.694,"l":0.618,"c":0.69,"v":4.5,"m":3},
{"d":"2026-03-06","o":0.69,"h":0.738,"l":0.664,"c":0.728,"v":4.2,"m":3},
{"d":"2026-03-09","o":0.708,"h":0.714,"l":0.69,"c":0.696,"v":3.4,"m":3},
{"d":"2026-03-10","o":0.704,"h":0.724,"l":0.68,"c":0.716,"v":4.5,"m":3}
],
"f": [
{"d":"2024-09-24","t":0.19,"b":0.178,"c":"g","s":1},
{"d":"2024-09-27","t":0.198,"b":0.184,"c":"g","s":1},
{"d":"2024-10-03","t":0.214,"b":0.2,"c":"g","s":1},
{"d":"2024-10-08","t":0.229,"b":0.211,"c":"g","s":1},
{"d":"2024-10-10","t":0.236,"b":0.22,"c":"g","s":1},
{"d":"2024-10-15","t":0.241,"b":0.228,"c":"g","s":1},
{"d":"2024-10-22","t":0.242,"b":0.232,"c":"g","s":1},
{"d":"2024-10-22","t":0.242,"b":0.232,"c":"o","s":2},
{"d":"2024-10-24","t":0.24,"b":0.233,"c":"o","s":2},
{"d":"2024-11-01","t":0.235,"b":0.228,"c":"o","s":2},
{"d":"2024-11-11","t":0.231,"b":0.227,"c":"o","s":2},
{"d":"2024-11-19","t":0.232,"b":0.227,"c":"o","s":2},
{"d":"2024-11-19","t":0.232,"b":0.227,"c":"g","s":3},
{"d":"2024-11-25","t":0.239,"b":0.232,"c":"g","s":3},
{"d":"2024-12-02","t":0.249,"b":0.241,"c":"g","s":3},
{"d":"2024-12-09","t":0.25,"b":0.247,"c":"g","s":3},
{"d":"2024-12-11","t":0.249,"b":0.246,"c":"g","s":3},
{"d":"2024-12-11","t":0.249,"b":0.246,"c":"o","s":4},
{"d":"2024-12-19","t":0.246,"b":0.242,"c":"o","s":4},
{"d":"2024-12-31","t":0.243,"b":0.239,"c":"o","s":4},
{"d":"2025-01-09","t":0.244,"b":0.24,"c":"o","s":4},
{"d":"2025-01-09","t":0.244,"b":0.24,"c":"g","s":5},
{"d":"2025-01-15","t":0.247,"b":0.243,"c":"g","s":5},
{"d":"2025-01-22","t":0.251,"b":0.248,"c":"g","s":5},
{"d":"2025-01-28","t":0.251,"b":0.247,"c":"g","s":5},
{"d":"2025-01-28","t":0.251,"b":0.247,"c":"o","s":6},
{"d":"2025-02-04","t":0.251,"b":0.248,"c":"o","s":6},
{"d":"2025-02-06","t":0.252,"b":0.248,"c":"o","s":6},
{"d":"2025-02-06","t":0.252,"b":0.248,"c":"g","s":7},
{"d":"2025-02-07","t":0.253,"b":0.249,"c":"g","s":7},
{"d":"2025-02-12","t":0.259,"b":0.252,"c":"g","s":7},
{"d":"2025-02-17","t":0.267,"b":0.257,"c":"g","s":7},
{"d":"2025-02-21","t":0.278,"b":0.262,"c":"g","s":7},
{"d":"2025-02-27","t":0.283,"b":0.27,"c":"g","s":7},
{"d":"2025-02-27","t":0.283,"b":0.27,"c":"o","s":8},
{"d":"2025-03-04","t":0.28,"b":0.27,"c":"o","s":8},
{"d":"2025-03-11","t":0.28,"b":0.273,"c":"o","s":8},
{"d":"2025-03-11","t":0.28,"b":0.273,"c":"g","s":9},
{"d":"2025-03-17","t":0.288,"b":0.278,"c":"g","s":9},
{"d":"2025-03-21","t":0.292,"b":0.285,"c":"g","s":9},
{"d":"2025-03-26","t":0.291,"b":0.285,"c":"g","s":9},
{"d":"2025-03-31","t":0.29,"b":0.286,"c":"g","s":9},
{"d":"2025-03-31","t":0.29,"b":0.286,"c":"o","s":10},
{"d":"2025-04-03","t":0.29,"b":0.287,"c":"o","s":10},
{"d":"2025-04-08","t":0.289,"b":0.286,"c":"o","s":10},
{"d":"2025-04-10","t":0.29,"b":0.286,"c":"o","s":10},
{"d":"2025-04-10","t":0.29,"b":0.286,"c":"g","s":11},
{"d":"2025-04-14","t":0.291,"b":0.287,"c":"g","s":11},
{"d":"2025-04-22","t":0.3,"b":0.288,"c":"g","s":11},
{"d":"2025-04-29","t":0.311,"b":0.294,"c":"g","s":11},
{"d":"2025-05-05","t":0.317,"b":0.304,"c":"g","s":11},
{"d":"2025-05-08","t":0.316,"b":0.304,"c":"g","s":11},
{"d":"2025-05-09","t":0.314,"b":0.303,"c":"g","s":11},
{"d":"2025-05-09","t":0.314,"b":0.303,"c":"o","s":12},
{"d":"2025-05-12","t":0.311,"b":0.301,"c":"o","s":12},
{"d":"2025-05-15","t":0.308,"b":0.3,"c":"o","s":12},
{"d":"2025-05-20","t":0.305,"b":0.297,"c":"o","s":12},
{"d":"2025-05-20","t":0.305,"b":0.297,"c":"p","s":13},
{"d":"2025-05-27","t":0.297,"b":0.285,"c":"p","s":13},
{"d":"2025-06-03","t":0.29,"b":0.272,"c":"p","s":13},
{"d":"2025-06-10","t":0.281,"b":0.261,"c":"p","s":13},
{"d":"2025-06-16","t":0.27,"b":0.25,"c":"p","s":13},
{"d":"2025-06-24","t":0.256,"b":0.242,"c":"p","s":13},
{"d":"2025-06-30","t":0.247,"b":0.235,"c":"p","s":13},
{"d":"2025-07-03","t":0.243,"b":0.234,"c":"p","s":13},
{"d":"2025-07-11","t":0.242,"b":0.233,"c":"p","s":13},
{"d":"2025-07-22","t":0.242,"b":0.232,"c":"p","s":13},
{"d":"2025-07-30","t":0.24,"b":0.23,"c":"p","s":13},
{"d":"2025-08-08","t":0.229,"b":0.221,"c":"p","s":13},
{"d":"2025-08-19","t":0.225,"b":0.215,"c":"p","s":13},
{"d":"2025-08-27","t":0.22,"b":0.212,"c":"p","s":13},
{"d":"2025-09-03","t":0.22,"b":0.213,"c":"p","s":13},
{"d":"2025-09-03","t":0.22,"b":0.213,"c":"o","s":14},
{"d":"2025-09-05","t":0.223,"b":0.215,"c":"o","s":14},
{"d":"2025-09-05","t":0.223,"b":0.215,"c":"g","s":15},
{"d":"2025-09-10","t":0.236,"b":0.222,"c":"g","s":15},
{"d":"2025-09-16","t":0.246,"b":0.239,"c":"g","s":15},
{"d":"2025-09-19","t":0.247,"b":0.242,"c":"g","s":15},
{"d":"2025-09-19","t":0.247,"b":0.242,"c":"p","s":16},
{"d":"2025-09-24","t":0.238,"b":0.232,"c":"p","s":16},
{"d":"2025-09-29","t":0.229,"b":0.222,"c":"p","s":16},
{"d":"2025-10-06","t":0.222,"b":0.21,"c":"p","s":16},
{"d":"2025-10-09","t":0.217,"b":0.206,"c":"p","s":16},
{"d":"2025-10-15","t":0.21,"b":0.198,"c":"p","s":16},
{"d":"2025-10-22","t":0.202,"b":0.194,"c":"p","s":16},
{"d":"2025-10-24","t":0.2,"b":0.194,"c":"p","s":16},
{"d":"2025-10-24","t":0.2,"b":0.194,"c":"o","s":17},
{"d":"2025-11-04","t":0.198,"b":0.195,"c":"o","s":17},
{"d":"2025-11-12","t":0.2,"b":0.196,"c":"o","s":17},
{"d":"2025-11-12","t":0.2,"b":0.196,"c":"g","s":18},
{"d":"2025-11-19","t":0.214,"b":0.204,"c":"g","s":18},
{"d":"2025-11-26","t":0.225,"b":0.214,"c":"g","s":18},
{"d":"2025-12-08","t":0.239,"b":0.225,"c":"g","s":18},
{"d":"2025-12-16","t":0.246,"b":0.235,"c":"g","s":18},
{"d":"2025-12-29","t":0.255,"b":0.246,"c":"g","s":18},
{"d":"2025-12-31","t":0.254,"b":0.247,"c":"g","s":18},
{"d":"2025-12-31","t":0.254,"b":0.247,"c":"o","s":19},
{"d":"2026-01-05","t":0.253,"b":0.248,"c":"o","s":19},
{"d":"2026-01-06","t":0.256,"b":0.248,"c":"o","s":19},
{"d":"2026-01-06","t":0.256,"b":0.248,"c":"g","s":20},
{"d":"2026-01-08","t":0.267,"b":0.25,"c":"g","s":20},
{"d":"2026-01-14","t":0.292,"b":0.264,"c":"g","s":20},
{"d":"2026-01-20","t":0.325,"b":0.285,"c":"g","s":20},
{"d":"2026-01-23","t":0.345,"b":0.305,"c":"g","s":20},
{"d":"2026-01-29","t":0.389,"b":0.322,"c":"g","s":20},
{"d":"2026-02-03","t":0.415,"b":0.335,"c":"g","s":20},
{"d":"2026-02-09","t":0.437,"b":0.38,"c":"g","s":20},
{"d":"2026-02-12","t":0.452,"b":0.41,"c":"g","s":20},
{"d":"2026-02-18","t":0.49,"b":0.45,"c":"g","s":20},
{"d":"2026-02-25","t":0.524,"b":0.5,"c":"g","s":20},
{"d":"2026-03-03","t":0.556,"b":0.525,"c":"g","s":20},
{"d":"2026-03-05","t":0.58,"b":0.54,"c":"g","s":20},
{"d":"2026-03-09","t":0.603,"b":0.56,"c":"g","s":20},
{"d":"2026-03-10","t":0.612,"b":0.566,"c":"g","s":20}
],
"s": [
{"d":"2024-09-24","t":0.161,"b":0.154,"c":"d","s":1},
{"d":"2024-10-02","t":0.169,"b":0.158,"c":"d","s":1},
{"d":"2024-10-10","t":0.18,"b":0.166,"c":"d","s":1},
{"d":"2024-11-01","t":0.19,"b":0.173,"c":"d","s":1},
{"d":"2024-11-20","t":0.197,"b":0.18,"c":"d","s":1},
{"d":"2024-12-09","t":0.204,"b":0.187,"c":"d","s":1},
{"d":"2024-12-30","t":0.211,"b":0.194,"c":"d","s":1},
{"d":"2025-01-17","t":0.215,"b":0.2,"c":"d","s":1},
{"d":"2025-02-07","t":0.222,"b":0.207,"c":"d","s":1},
{"d":"2025-02-17","t":0.227,"b":0.209,"c":"d","s":1},
{"d":"2025-03-06","t":0.239,"b":0.215,"c":"d","s":1},
{"d":"2025-03-26","t":0.249,"b":0.225,"c":"d","s":1},
{"d":"2025-04-14","t":0.253,"b":0.229,"c":"d","s":1},
{"d":"2025-05-06","t":0.263,"b":0.242,"c":"d","s":1},
{"d":"2025-05-19","t":0.267,"b":0.246,"c":"d","s":1},
{"d":"2025-05-26","t":0.268,"b":0.248,"c":"d","s":1},
{"d":"2025-05-26","t":0.268,"b":0.248,"c":"o","s":2},
{"d":"2025-06-16","t":0.264,"b":0.246,"c":"o","s":2},
{"d":"2025-07-03","t":0.26,"b":0.243,"c":"o","s":2},
{"d":"2025-07-11","t":0.257,"b":0.244,"c":"o","s":2},
{"d":"2025-07-30","t":0.253,"b":0.243,"c":"o","s":2},
{"d":"2025-08-19","t":0.25,"b":0.242,"c":"o","s":2},
{"d":"2025-09-05","t":0.246,"b":0.239,"c":"o","s":2},
{"d":"2025-09-09","t":0.246,"b":0.239,"c":"o","s":2},
{"d":"2025-09-09","t":0.246,"b":0.239,"c":"d","s":3},
{"d":"2025-09-15","t":0.245,"b":0.239,"c":"d","s":3},
{"d":"2025-09-15","t":0.245,"b":0.239,"c":"o","s":4},
{"d":"2025-09-19","t":0.244,"b":0.238,"c":"o","s":4},
{"d":"2025-10-03","t":0.239,"b":0.234,"c":"o","s":4},
{"d":"2025-10-14","t":0.236,"b":0.232,"c":"o","s":4},
{"d":"2025-10-23","t":0.232,"b":0.229,"c":"o","s":4},
{"d":"2025-10-23","t":0.232,"b":0.229,"c":"p","s":5},
{"d":"2025-11-10","t":0.227,"b":0.224,"c":"p","s":5},
{"d":"2025-11-27","t":0.226,"b":0.224,"c":"p","s":5},
{"d":"2025-12-03","t":0.226,"b":0.224,"c":"p","s":5},
{"d":"2025-12-03","t":0.226,"b":0.224,"c":"o","s":6},
{"d":"2025-12-08","t":0.227,"b":0.225,"c":"o","s":6},
{"d":"2025-12-11","t":0.229,"b":0.226,"c":"o","s":6},
{"d":"2025-12-11","t":0.229,"b":0.226,"c":"d","s":7},
{"d":"2025-12-16","t":0.231,"b":0.228,"c":"d","s":7},
{"d":"2026-01-08","t":0.234,"b":0.231,"c":"d","s":7},
{"d":"2026-01-16","t":0.242,"b":0.235,"c":"d","s":7},
{"d":"2026-01-28","t":0.264,"b":0.246,"c":"d","s":7},
{"d":"2026-02-06","t":0.283,"b":0.255,"c":"d","s":7},
{"d":"2026-02-16","t":0.301,"b":0.267,"c":"d","s":7},
{"d":"2026-02-25","t":0.325,"b":0.285,"c":"d","s":7},
{"d":"2026-03-05","t":0.353,"b":0.311,"c":"d","s":7},
{"d":"2026-03-10","t":0.367,"b":0.322,"c":"d","s":7}
]
},
"vconcat": [
{
"width": 951,
"height": 455,
"title": {"text": "Echoiq Limited Ordinary (EIQ) - Daily", "anchor": "start", "frame": "group", "offset": -14, "dx": 2, "fontSize": 10, "fontWeight": "bold", "color": "#000000", "font": "Liberation Sans"},
"layer": [
{
"data": {"name": "s"},
"mark": {"type": "area", "interpolate": "monotone"},
"encoding": {
"x": {"field": "d", "type": "ordinal", "sort": "ascending", "scale": {"paddingInner": 0, "paddingOuter": 0.17, "range": [0, 925.5]},
"axis": {"orient": "bottom", "values": ["2024-10-01","2024-11-01","2024-12-02","2025-01-02","2025-02-03","2025-03-03","2025-04-01","2025-05-01","2025-06-02","2025-07-01","2025-08-01","2025-09-01","2025-10-01","2025-11-03","2025-12-01","2026-01-02","2026-02-02","2026-03-02"],
"labelExpr": "substring(datum.value,5,7)=='01' ? substring(datum.value,0,4) : ['Jan','Feb','Mar','Apr','May','Jun','Jul','Aug','Sep','Oct','Nov','Dec'][toNumber(substring(datum.value,5,7))-1]",
"labelAlign": "left", "labelDx": 1, "labelAngle": 0, "labelFontSize": 10, "tickSize": 3, "labelPadding": 1, "labelOverlap": false, "labelFlush": false, "domain": false}},
"y": {"field": "t", "type": "quantitative", "scale": {"domain": [0.1414, 0.7751], "nice": false, "zero": false},
"axis": {"orient": "right", "values": [0.15,0.2,0.25,0.3,0.35,0.4,0.45,0.5,0.55,0.6,0.65,0.7,0.75], "tickCount": 30, "format": ".2f", "labelAlign": "right", "labelPadding": 43, "tickSize": 3, "labelFontSize": 10.5, "labelOverlap": false, "domainColor": "#444444"}},
"y2": {"field": "b"},
"color": {"field": "c", "type": "nominal", "scale": {"domain": ["g","o","p","d"], "range": ["#00f000","#ff6a14","#ffb0b0","#3cb371"]}, "legend": null},
"detail": {"field": "s", "type": "nominal"}
}
},
{
"data": {"name": "f"},
"mark": {"type": "area", "interpolate": "monotone"},
"encoding": {
"x": {"field": "d", "type": "ordinal", "sort": "ascending"},
"y": {"field": "t", "type": "quantitative"},
"y2": {"field": "b"},
"color": {"field": "c", "type": "nominal", "legend": null},
"detail": {"field": "s", "type": "nominal"}
}
},
{
"data": {"name": "p"},
"mark": {"type": "rule", "strokeWidth": 1},
"encoding": {
"x": {"field": "d", "type": "ordinal", "sort": "ascending"},
"y": {"field": "l", "type": "quantitative"},
"y2": {"field": "h"},
"stroke": {"condition": {"test": "datum.c < datum.o", "value": "#000000"}, "value": "#8c8c8c"}
}
},
{
"data": {"name": "p"},
"mark": {"type": "bar", "width": {"band": 0.6}, "strokeWidth": 0.8},
"encoding": {
"x": {"field": "d", "type": "ordinal", "sort": "ascending"},
"y": {"field": "o", "type": "quantitative"},
"y2": {"field": "c"},
"fill": {"condition": {"test": "datum.c < datum.o", "value": "#000000"}, "value": "#ffffff"},
"stroke": {"condition": {"test": "datum.c < datum.o", "value": "#000000"}, "value": "#8c8c8c"}
}
},
{
"data": {"values": [{"base": 0.1414}]},
"mark": {"type": "rule", "color": "#444444", "strokeWidth": 1},
"encoding": {"y": {"field": "base", "type": "quantitative"}}
}
]
},
{
"width": 951,
"height": 86,
"title": {"text": "Volume", "anchor": "start", "frame": "group", "offset": -13, "dx": 2, "fontSize": 10, "fontWeight": "bold", "color": "#7f7fc6", "font": "Liberation Sans"},
"layer": [
{
"data": {"name": "p"},
"mark": {"type": "bar", "width": {"band": 0.45}, "color": "#7b7bd6"},
"encoding": {
"x": {"field": "d", "type": "ordinal", "sort": "ascending", "scale": {"paddingInner": 0, "paddingOuter": 0.17, "range": [0, 925.5]}, "axis": null},
"y": {"field": "v", "type": "quantitative", "scale": {"domain": [0, 49.1], "nice": false},
"axis": {"orient": "right", "values": [0,10,20,30,40], "tickCount": 30, "labelExpr": "datum.value == 0 ? '0' : datum.value + 'M'", "labelAlign": "right", "labelPadding": 43, "tickSize": 3, "labelFontSize": 10.5, "labelOverlap": false, "domainColor": "#444444"}}
}
},
{
"data": {"name": "p"},
"mark": {"type": "line", "color": "#ff0000", "strokeWidth": 1.5, "interpolate": "step"},
"encoding": {
"x": {"field": "d", "type": "ordinal", "sort": "ascending"},
"y": {"field": "m", "type": "quantitative"}
}
},
{
"data": {"values": [{"top": 49.1}]},
"mark": {"type": "rule", "color": "#444444", "strokeWidth": 1},
"encoding": {"y": {"field": "top", "type": "quantitative"}}
}
]
}
]
}
